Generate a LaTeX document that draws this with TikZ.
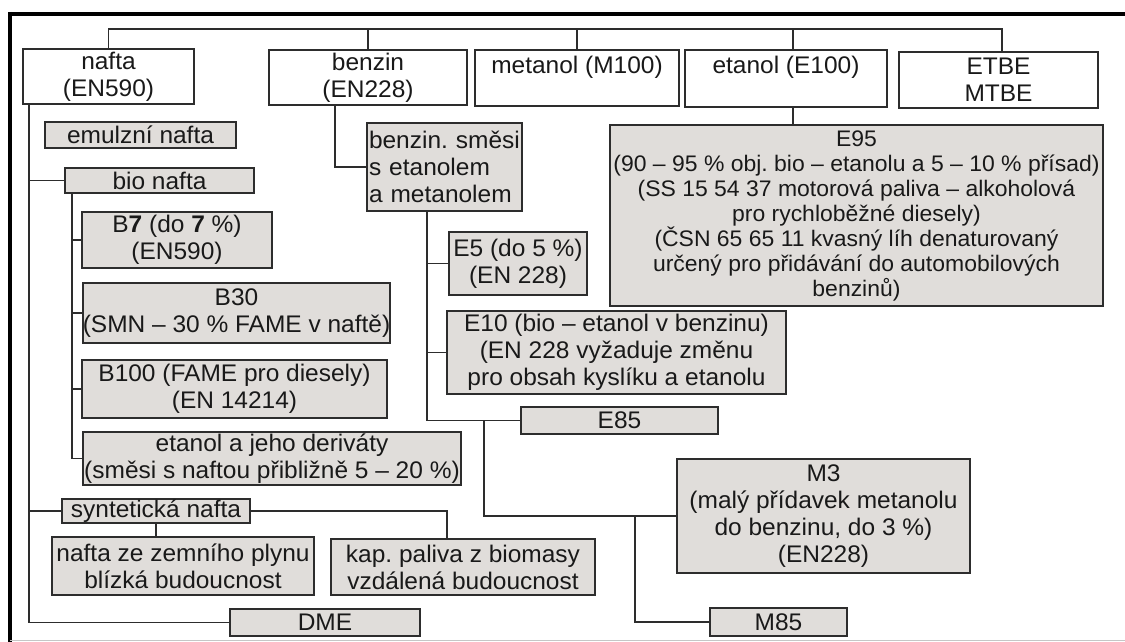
\documentclass[tikz,border=0pt]{standalone}
\usepackage{fontspec}
\setmainfont{Liberation Sans}[FakeStretch=1.02]
\frenchspacing
\definecolor{ln}{RGB}{45,45,45}
\definecolor{bxg}{RGB}{224,221,218}
\tikzset{
  base/.style={draw=ln, line width=1.5pt, inner sep=0pt, align=center,
    font=\fontsize{24}{27}\selectfont, text=black!90},
  wbox/.style={base, fill=white},
  gbox/.style={base, fill=bxg},
  conn/.style={draw=ln, line width=1.4pt},
  frameline/.style={draw=black, line width=3.6pt}
}
\newcommand\bx[7]{%
  \node[#6, minimum width={#4pt-#2pt}, minimum height={#5pt-#3pt}] (#1) at ({(#2+#4)/2},{(#3+#5)/2}) {#7};}
\begin{document}
\begin{tikzpicture}[x=1pt,y=-1pt]
\useasboundingbox (0,0) rectangle (1125,642);
\fill[white] (0,0) rectangle (1125,642);
% frame
\draw[frameline] (8,14) -- (1125,14);
\draw[frameline] (10,12) -- (10,642);
\draw[gray!45, line width=1pt] (10,640.5) -- (1125,640.5);

% top row
\bx{nafta}{23}{49}{194}{104}{wbox}{nafta\\(EN590)}
\bx{benzin}{269}{50}{467}{105}{wbox}{benzin\\(EN228)}
\bx{metanol}{475}{50}{679}{106}{wbox}{metanol (M100)\\\phantom{x}}
\bx{etanol}{685}{50}{887}{107}{wbox}{etanol (E100)\\\phantom{x}}
\bx{etbe}{899}{52}{1098}{108}{wbox}{ETBE\\MTBE}

% nafta column
\bx{emul}{45}{122}{236}{148}{gbox}{emulzní nafta}
\bx{bio}{65}{168}{254}{193}{gbox}{bio nafta}
\bx{b7}{82}{212}{272}{268}{gbox}{B\textbf{7} (do \textbf{7} \%)\\(EN590)}
\bx{b30}{83}{283}{390}{343}{gbox}{B30\\(SMN – 30 \% FAME v naftě)}
\bx{b100}{82}{360}{387}{418}{gbox}{B100 (FAME pro diesely)\\(EN 14214)}
\bx{etder}{83}{432}{461}{485}{gbox}{etanol a jeho deriváty\\(směsi s naftou přibližně 5 – 20 \%)}
\bx{syn}{62}{499}{250}{523}{gbox}{syntetická nafta}
\bx{zemni}{52}{537}{314}{595}{gbox}{nafta ze zemního plynu\\blízká budoucnost}
\bx{kap}{331}{539}{595}{595}{gbox}{kap. paliva z biomasy\\vzdálená budoucnost}
\bx{dme}{230}{609}{420}{636}{gbox}{DME}

% benzin column
\bx{smesi}{367}{123}{522}{211}{gbox,text width=151pt,align=left}{\mbox{benzin. směsi}\\s etanolem\\a metanolem}
\bx{e5}{449}{232}{587}{295}{gbox}{E5 (do 5 \%)\\(EN 228)}
\bx{e10}{447}{311}{786}{394}{gbox}{E10 (bio – etanol v benzinu)\\(EN 228 vyžaduje změnu\\pro obsah kyslíku a etanolu}
\bx{e85}{521}{407}{718}{434}{gbox}{E85}
\bx{m3}{677}{459}{970}{573}{gbox}{M3\\(malý přídavek metanolu\\do benzinu, do 3 \%)\\(EN228)}
\bx{m85}{710}{608}{847}{636}{gbox}{M85}

% etanol column
\bx{e95}{610}{125}{1103}{306}{gbox,font=\fontsize{22.5}{25}\selectfont}{E95\\(90 – 95 \% obj. bio – etanolu a 5 – 10 \% přísad)\\(SS 15 54 37 motorová paliva – alkoholová\\pro rychloběžné diesely)\\(ČSN 65 65 11 kvasný líh denaturovaný\\určený pro přidávání do automobilových\\benzinů)}

% connectors: top bus
\coordinate (topy) at (0,29);
\coordinate (etbed) at ([xshift=3.5pt]etbe.north);
\coordinate (etand) at ([xshift=7pt]etanol.north);
\coordinate (etands) at ([xshift=7pt]etanol.south);
\draw[conn] (nafta.north) -- (nafta.north |- topy) -- (etbed |- topy) -- (etbed);
\draw[conn] (benzin.north) -- (benzin.north |- topy);
\draw[conn] (metanol.north) -- (metanol.north |- topy);
\draw[conn] (etand) -- (etand |- topy);
\draw[conn] (etands) -- (etands |- e95.north);

% nafta branches
\coordinate (Lx) at (29,0);
\coordinate (Bx) at (72,0);
\draw[conn] (nafta.south -| Lx) |- (dme.west);
\draw[conn] (bio.west) -- (bio.west -| Lx);
\draw[conn] (syn.west) -- (syn.west -| Lx);
\draw[conn] (bio.south -| Bx) |- (etder.west);
\draw[conn] (b7.west) -- (b7.west -| Bx);
\draw[conn] (b30.west) -- (b30.west -| Bx);
\draw[conn] (b100.west) -- (b100.west -| Bx);
\coordinate (kapd) at ([xshift=-16pt]kap.north);
\draw[conn] (syn.east) -| (kapd);
\draw[conn] (syn.south) -- (syn.south |- zemni.north);

% benzin branches
\coordinate (Sx) at (335,0);
\coordinate (Ex) at (427,0);
\coordinate (Mx) at (484,0);
\coordinate (Nx) at (635,0);
\draw[conn] (benzin.south -| Sx) |- (smesi.west);
\draw[conn] (smesi.south -| Ex) |- (e85.west);
\draw[conn] (e5.west) -- (e5.west -| Ex);
\draw[conn] (e10.west) -- (e10.west -| Ex);
\draw[conn] (e85.west -| Mx) |- (m3.west);
\draw[conn] (m3.west -| Nx) |- (m85.west);
\end{tikzpicture}
\end{document}
